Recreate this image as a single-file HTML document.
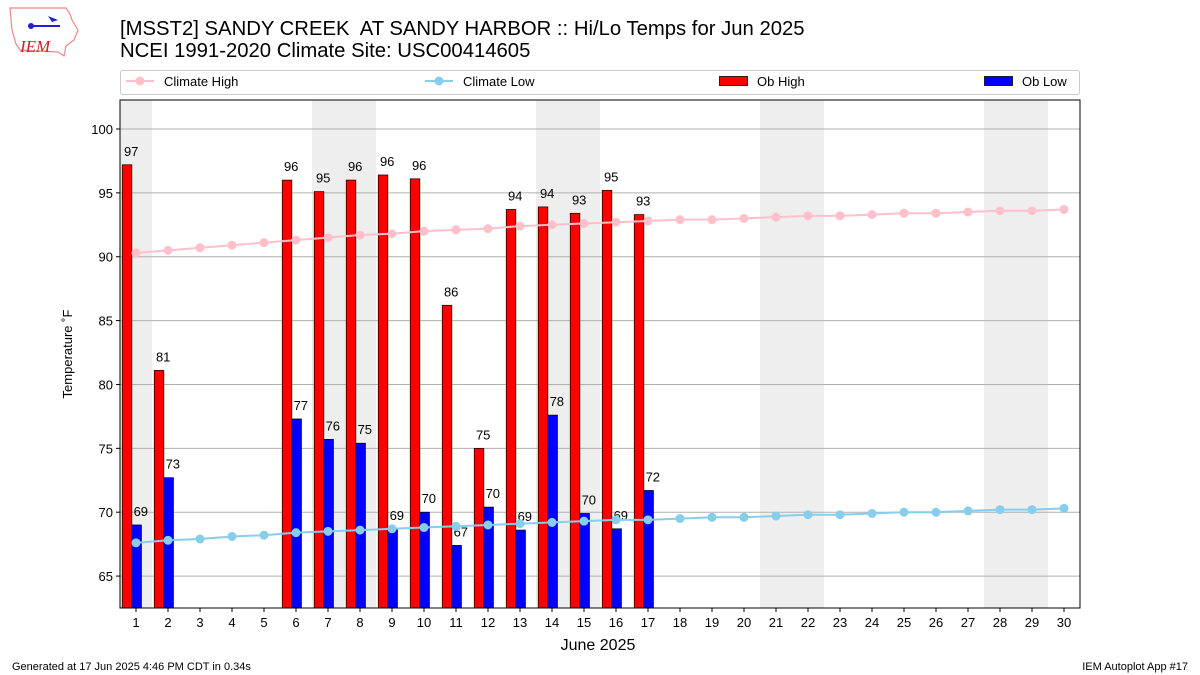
<!DOCTYPE html>
<html><head><meta charset="utf-8"><style>
body{margin:0;background:#fff;font-family:"Liberation Sans","DejaVu Sans",sans-serif;}
#wrap{position:relative;width:1200px;height:675px;overflow:hidden;}
</style></head><body><div id="wrap">
<svg id="svg" width="1200" height="675" xmlns="http://www.w3.org/2000/svg">
<g>
<path d="M10,8 L66,8 L70,14 L72,20 L78,30 L74,40 L66,46 L64,56 L58,52 L20,50 L16,44 L12,30 Z" fill="none" stroke="#e88" stroke-width="1.2"/>
<line x1="30" y1="26" x2="60" y2="26" stroke="#22c" stroke-width="2"/>
<circle cx="31" cy="26" r="3" fill="#22c"/>
<path d="M48,16 L58,20 L52,22 Z" fill="#22c"/>
<text x="20" y="52" font-family="Liberation Serif,serif" font-style="italic" font-size="17" fill="#c22">IEM</text>
</g>
<text x="120" y="35" font-size="20.3">[MSST2] SANDY CREEK&#160; AT SANDY HARBOR :: Hi/Lo Temps for Jun 2025</text>
<text x="120" y="57" font-size="20.3">NCEI 1991-2020 Climate Site: USC00414605</text>
<g>
<rect x="120.5" y="70.5" width="959" height="24" fill="#fff" stroke="#ccc" rx="2"/>
<line x1="126" y1="81" x2="154" y2="81" stroke="pink" stroke-width="2"/><circle cx="140" cy="81" r="4.5" fill="pink"/>
<text x="164" y="86" font-size="13">Climate High</text>
<line x1="425" y1="81" x2="453" y2="81" stroke="skyblue" stroke-width="2"/><circle cx="439" cy="81" r="4.5" fill="skyblue"/>
<text x="463" y="86" font-size="13">Climate Low</text>
<rect x="719.5" y="76.5" width="28" height="9" fill="red" stroke="#000" stroke-width="0.8"/>
<text x="757" y="86" font-size="13">Ob High</text>
<rect x="984.5" y="76.5" width="28" height="9" fill="blue" stroke="#000" stroke-width="0.8"/>
<text x="1022" y="86" font-size="13">Ob Low</text>
</g>
<g id="plot"></g>
<text x="598" y="650" font-size="16" text-anchor="middle">June 2025</text>
<text transform="translate(72,354) rotate(-90)" font-size="13" text-anchor="middle">Temperature ˚F</text>
<text x="12" y="670" font-size="11">Generated at 17 Jun 2025 4:46 PM CDT in 0.34s</text>
<text x="1188" y="670" font-size="11" text-anchor="end">IEM Autoplot App #17</text>
</svg></div>
<script>
const days=[1,2,3,4,5,6,7,8,9,10,11,12,13,14,15,16,17,18,19,20,21,22,23,24,25,26,27,28,29,30];
const obHigh=[97.2,81.1,null,null,null,96.0,95.1,96.0,96.4,96.1,86.2,75.0,93.7,93.9,93.4,95.2,93.3];
const obLow=[69.0,72.7,null,null,null,77.3,75.7,75.4,68.7,70.0,67.4,70.4,68.6,77.6,69.9,68.7,71.7];
const climHigh=[90.3,90.5,90.7,90.9,91.1,91.3,91.5,91.7,91.8,92.0,92.1,92.2,92.4,92.5,92.6,92.7,92.8,92.9,92.9,93.0,93.1,93.2,93.2,93.3,93.4,93.4,93.5,93.6,93.6,93.7];
const climLow=[67.6,67.8,67.9,68.1,68.2,68.4,68.5,68.6,68.7,68.8,68.9,69.0,69.1,69.2,69.3,69.4,69.4,69.5,69.6,69.6,69.7,69.8,69.8,69.9,70.0,70.0,70.1,70.2,70.2,70.3];
const weekends=[1,7,8,14,15,21,22,28,29];
const yTicks=[65,70,75,80,85,90,95,100];
const L=120,R=1080,T=100,B=608,X0=0.5,X1=30.5,Y0=62.5,Y1=102.27;
const sx=v=>L+(v-X0)/(X1-X0)*(R-L);
const sy=v=>B-(v-Y0)/(Y1-Y0)*(B-T);
const NS="http://www.w3.org/2000/svg";
const g=document.getElementById('plot');
function mk(t,a,p){const e=document.createElementNS(NS,t);for(const k in a)e.setAttribute(k,a[k]);(p||g).appendChild(e);return e;}
weekends.forEach(d=>{const e=mk('rect',{x:sx(d-0.5),y:T,width:sx(d+0.5)-sx(d-0.5),height:B-T,fill:'#eee'});

});
yTicks.forEach(v=>{const l=mk('line',{x1:L,x2:R,y1:sy(v),y2:sy(v),stroke:'#b0b0b0','stroke-width':1});


mk('line',{x1:L-4,x2:L,y1:sy(v),y2:sy(v),stroke:'#000'});
const t=mk('text',{x:L-7,y:sy(v)+5,'font-size':13,'text-anchor':'end'});t.textContent=v;

});
days.forEach(d=>{mk('line',{x1:sx(d),x2:sx(d),y1:B,y2:B+4,stroke:'#000'});
const t=mk('text',{x:sx(d),y:B+19,'font-size':13,'text-anchor':'middle'});t.textContent=d;

});
const bw=sx(1.3)-sx(1);
function bars(arr,off,lab,color,name){arr.forEach((v,i)=>{if(v==null)return;const d=days[i];const x=sx(d+off);
const r=mk('rect',{x:x,y:sy(v),width:bw,height:B-sy(v),fill:color,stroke:'#000','stroke-width':0.7});


const t=mk('text',{x:sx(d+lab),y:sy(v)-9,'font-size':13,'text-anchor':'middle'});t.textContent=Math.round(v);

});}
bars(obHigh,-0.43,-0.15,'red','ob-high-bar');
bars(obLow,-0.13,0.15,'blue','ob-low-bar');
function line(arr,color,name){const p=mk('polyline',{points:arr.map((v,i)=>sx(days[i])+','+sy(v)).join(' '),fill:'none',stroke:color,'stroke-width':2});


arr.forEach((v,i)=>{const c=mk('circle',{cx:sx(days[i]),cy:sy(v),r:4.5,fill:color});

});}
line(climHigh,'pink','climate-high-line');
line(climLow,'skyblue','climate-low-line');
const fr=mk('rect',{x:L,y:T,width:R-L,height:B-T,fill:'none',stroke:'#000','stroke-width':1});


</script></body></html>
